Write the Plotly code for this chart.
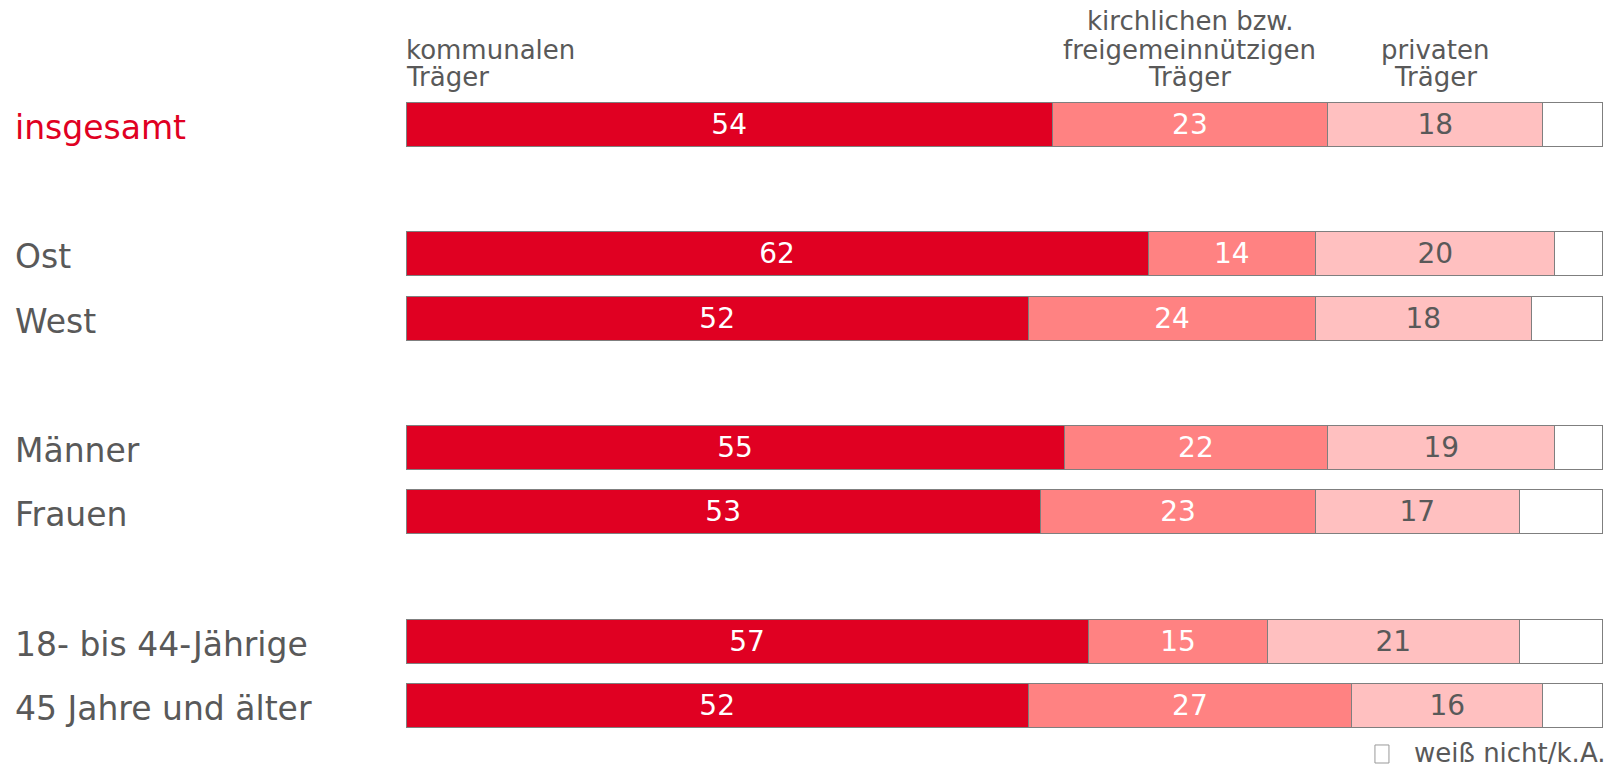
import plotly.graph_objects as go

# Zeilen (leere Einträge = Abstand zwischen Gruppen)
rows = ["insgesamt", " ", "Ost", "West", "  ", "Männer", "Frauen", "   ",
        "18- bis 44-Jährige", "45 Jahre und älter"]
kommunal = [54, None, 62, 52, None, 55, 53, None, 57, 52]
kirchlich = [23, None, 14, 24, None, 22, 23, None, 15, 27]
privat = [18, None, 20, 18, None, 19, 17, None, 21, 16]
rest = [None if k is None else 100 - k - c - p
        for k, c, p in zip(kommunal, kirchlich, privat)]

# Spaltenköpfe, zeilenweise
header_lines = [["kommunalen", "Träger"],
                ["kirchlichen bzw.", "freigemeinnützigen", "Träger"],
                ["privaten", "Träger"]]
legend_text = "weiß nicht/k.A."

FONT = "DejaVu Sans, Verdana, sans-serif"
GREY = "#595959"
colors = ["#E00022", "#FF8282", "#FFC0C0", "#FFFFFF"]
text_colors = ["white", "white", GREY, GREY]

fig = go.Figure()
for vals, col, tcol, show in zip([kommunal, kirchlich, privat, rest],
                                 colors, text_colors,
                                 [True, True, True, False]):
    fig.add_trace(go.Bar(
        y=rows, x=vals, orientation="h",
        width=0.68,
        marker=dict(color=col, line=dict(color="#7f7f7f", width=1)),
        text=[("" if v is None else str(v)) for v in vals] if show else None,
        textposition="inside" if show else "none",
        insidetextanchor="middle",
        textangle=0,
        constraintext="none",
        cliponaxis=False,
        textfont=dict(family=FONT, size=28, color=tcol),
        hoverinfo="skip",
    ))

# Zeilenbeschriftungen links
for r in rows:
    if r.strip():
        fig.add_annotation(
            x=-0.3280, xref="paper", y=r, yref="y", yshift=-3,
            text=r, showarrow=False, xanchor="left", yanchor="middle",
            font=dict(family=FONT, size=33,
                      color="#E00022" if r == "insgesamt" else GREY),
        )

# Spaltenköpfe über der Gesamtzeile (unten bündig)
k0, c0, p0 = kommunal[0], kirchlich[0], privat[0]
head_x = [0, k0 + c0 / 2, k0 + c0 + p0 / 2]
head_anchor = ["left", "center", "center"]
line_shift = [15.5, 42.5, 71]  # von unten nach oben, Pixel über Plotoberkante
for lines, hx, anc in zip(header_lines, head_x, head_anchor):
    for i, line in enumerate(reversed(lines)):
        fig.add_annotation(x=hx, xref="x", y=1.0, yref="paper",
                           yshift=line_shift[i], xshift=-2 if anc == "left" else 0,
                           text=line, showarrow=False,
                           xanchor=anc, yanchor="middle",
                           font=dict(family=FONT, size=26, color=GREY))

# Legende unten rechts
fig.add_shape(type="rect", xref="paper", yref="paper",
              x0=0.8088, x1=0.8205, y0=-0.0387, y1=-0.0108,
              line=dict(color="#999999", width=1), fillcolor="white")
fig.add_annotation(x=1.0, xref="paper", y=0, yref="paper", yshift=-15,
                   xshift=2, borderpad=0,
                   text=legend_text, showarrow=False,
                   xanchor="right", yanchor="middle",
                   font=dict(family=FONT, size=26, color=GREY))

fig.update_layout(
    width=1609, height=770,
    barmode="stack",
    showlegend=False,
    plot_bgcolor="white", paper_bgcolor="white",
    margin=dict(l=406, r=5, t=92, b=32),
    xaxis=dict(range=[0, 100.1], visible=False, fixedrange=True),
    yaxis=dict(type="category", categoryorder="array", categoryarray=rows,
               range=[9.5, -0.5], visible=False),
    font=dict(family=FONT, color=GREY),
)

fig.write_html("out.html", config={"displayModeBar": False},
               post_script="document.body.style.margin='0';")
